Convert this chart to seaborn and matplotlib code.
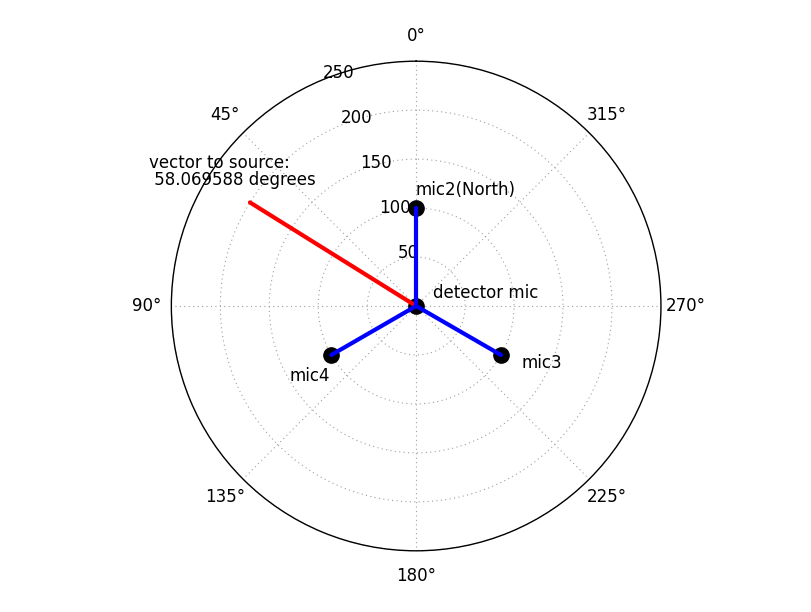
import numpy as np
import pandas as pd
import matplotlib
matplotlib.use("Agg")
import matplotlib.pyplot as plt
import seaborn as sns

# ---- data ----
mic_names = ["mic2(North)", "mic3", "mic4"]
mic_angles_deg = [0, 240, 120]
mic_radius = [100, 100, 100]
detector_label = "detector mic"
source_angle_deg = 58.069588
source_radius = 200
r_ticks = [50, 100, 150, 200, 250]
r_max = 250
theta_ticks_deg = [0, 45, 90, 135, 180, 225, 270, 315]

sns.set_style("white")
plt.rcParams["font.family"] = ["DejaVu Sans"]
plt.rcParams["font.size"] = 12
plt.rcParams["text.color"] = "black"
plt.rcParams["xtick.color"] = "black"
plt.rcParams["ytick.color"] = "black"
plt.rcParams["axes.labelcolor"] = "black"

fig = plt.figure(figsize=(8.12, 6.12), dpi=100)
fig.subplots_adjust(left=0.125, right=0.9, bottom=0.1, top=0.9)
ax = fig.add_subplot(111, projection="polar")
ax.set_theta_zero_location("N")
ax.set_theta_direction(1)

# segments from center to each mic
rows = []
for name, a, r in zip(mic_names, mic_angles_deg, mic_radius):
    rows.append({"mic": name, "theta": np.deg2rad(a), "r": 0})
    rows.append({"mic": name, "theta": np.deg2rad(a), "r": r})
seg = pd.DataFrame(rows)

# markers
pts = pd.DataFrame({
    "theta": [0.0] + [np.deg2rad(a) for a in mic_angles_deg],
    "r": [0] + mic_radius,
})
ax.plot(pts["theta"], pts["r"], "o", color="black", markersize=11, zorder=3)

# red source vector
src = pd.DataFrame({"theta": [np.deg2rad(source_angle_deg)] * 2, "r": [0, source_radius]})
sns.lineplot(data=src, x="theta", y="r", ax=ax, color="red", lw=3,
             estimator=None, sort=False, zorder=4)

sns.lineplot(data=seg, x="theta", y="r", units="mic", ax=ax, color="blue", lw=3,
             estimator=None, sort=False, zorder=5)

ax.set_xlabel("")
ax.set_ylabel("")
ax.set_ylim(0, r_max)
ax.set_yticks(r_ticks)
ax.set_yticklabels([])
ax.set_xticks(np.deg2rad(theta_ticks_deg))
ax.set_xticklabels([f"{t}°" for t in theta_ticks_deg], fontsize=12, color="black")
ax.tick_params(axis="x", pad=7.6)
ax.grid(True, color="#a0a0a0", linestyle=(0, (1, 3)), lw=0.8)
ax.spines["polar"].set_color("black")
ax.spines["polar"].set_linewidth(1)

# radial labels
for r in r_ticks:
    ax.annotate(str(r), xy=(np.deg2rad(22.5), r), xytext=(0, -1.2), textcoords="offset points",
                ha="left", va="bottom", fontsize=12, color="black")

# annotations
ax.annotate(detector_label, xy=(0, 0), xytext=(12, 6), textcoords="offset points",
            fontsize=12, ha="left", va="baseline", color="black")
offsets = {"mic2(North)": (-0.7, 9.5), "mic3": (15, -9.2), "mic4": (-30, -18.6)}
for name, a, r in zip(mic_names, mic_angles_deg, mic_radius):
    ax.annotate(name, xy=(np.deg2rad(a), r), xytext=offsets[name], textcoords="offset points",
                fontsize=12, ha="left", va="baseline", color="black")
ax.annotate("vector to source:\n %f degrees" % source_angle_deg,
            xy=(np.deg2rad(source_angle_deg), source_radius), xytext=(-72.5, 9.4),
            textcoords="offset points", fontsize=12, ha="left", va="bottom",
            linespacing=0.95, color="black")

fig.savefig("out.png", dpi=100)
